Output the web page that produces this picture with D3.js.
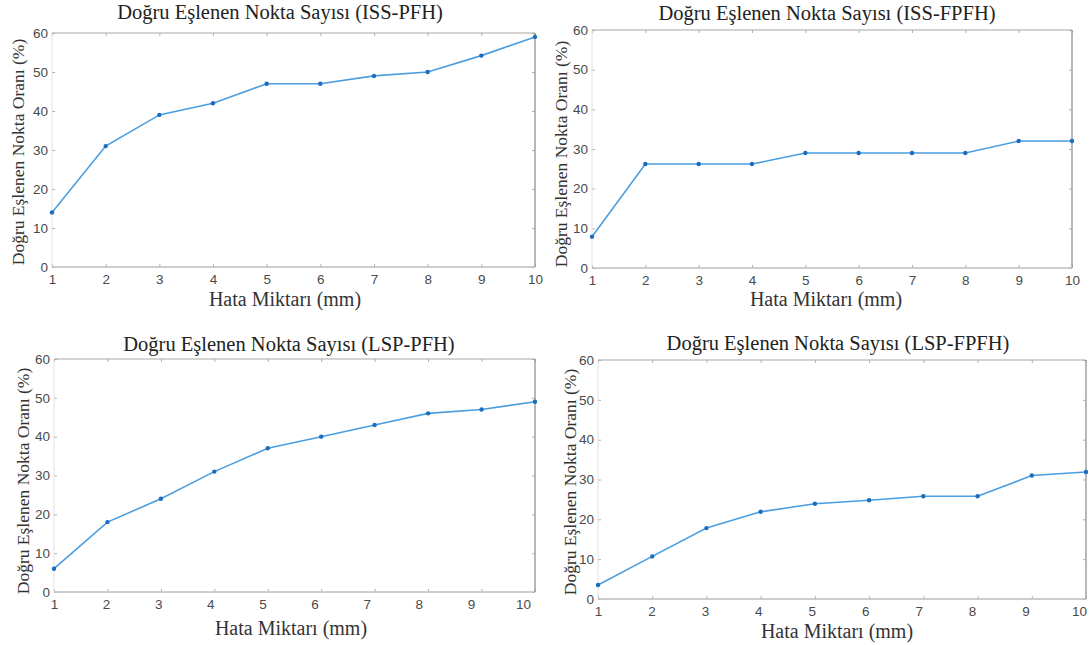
<!DOCTYPE html>
<html lang="tr">
<head>
<meta charset="UTF-8">
<title>Doğru Eşlenen Nokta Sayısı</title>
<script src="https://cdnjs.cloudflare.com/ajax/libs/d3/7.8.5/d3.min.js"></script>
<style>
    body { margin: 0; background: #fff; }
    .tick text { font-family: "Liberation Sans", Arial, sans-serif; font-size: 13.5px; fill: #4a4a4a; }
    .title { font-family: "Liberation Serif", "Times New Roman", serif; font-size: 20.5px; fill: #222; }
    .xtitle { font-family: "Liberation Serif", "Times New Roman", serif; font-size: 20px; fill: #333; }
    .ytitle { font-family: "Liberation Serif", "Times New Roman", serif; font-size: 17.5px; fill: #333; }
</style>
</head>
<body>
<svg id="chart" width="1091" height="645"></svg>
<script>
    // values
    const errorMm = [1, 2, 3, 4, 5, 6, 7, 8, 9, 10];
    const xTickLabels = ["1", "2", "3", "4", "5", "6", "7", "8", "9", "10"];
    const yTicks = [0, 10, 20, 30, 40, 50, 60];

    const issPfh  = [14, 31, 39, 42, 47, 47, 49, 50, 54.2, 59];
    const issFpfh = [7.9, 26.2, 26.2, 26.2, 29, 29, 29, 29, 32, 32];
    const lspPfh  = [6, 18, 24, 31, 37, 40, 43, 46, 47, 49];
    const lspFpfh = [3.5, 10.7, 17.8, 21.9, 23.9, 24.8, 25.8, 25.8, 31, 31.9];

    const titles = [
        "Doğru Eşlenen Nokta Sayısı (ISS-PFH)",
        "Doğru Eşlenen Nokta Sayısı (ISS-FPFH)",
        "Doğru Eşlenen Nokta Sayısı (LSP-PFH)",
        "Doğru Eşlenen Nokta Sayısı (LSP-FPFH)"
    ];
    const xLabel = "Hata Miktarı (mm)";
    const yLabel = "Doğru Eşlenen Nokta Oranı (%)";

    // panel boxes; labelRight is where the "10" label sits (the bottom plots were stretched)
    const layout = [
        { left: 52,  right: 535,  top: 33,  bottom: 267, labelRight: 535,  title: [280, 19],  xt: [285, 306], yt: [24, 152] },
        { left: 592, right: 1072, top: 30,  bottom: 268, labelRight: 1072, title: [827, 20],  xt: [826, 306], yt: [567, 154] },
        { left: 54,  right: 535,  top: 359, bottom: 592, labelRight: 523,  title: [289, 351], xt: [291, 635], yt: [29, 481] },
        { left: 598, right: 1086, top: 360, bottom: 599, labelRight: 1079, title: [838, 350], xt: [837, 638], yt: [576, 482] }
    ];
    const series = [issPfh, issFpfh, lspPfh, lspFpfh];

    const svg = d3.select("#chart");

    layout.forEach((p, i) => {
        const x = d3.scaleLinear().domain([1, 10]).range([p.left, p.right]);
        const xl = d3.scaleLinear().domain([1, 10]).range([p.left, p.labelRight]);
        const y = d3.scaleLinear().domain([0, 60]).range([p.bottom, p.top]);
        const g = svg.append("g");

        // inward tick marks on all four sides
        const marks = [
            [d3.axisBottom(x).tickValues(errorMm), `translate(0,${p.bottom})`],
            [d3.axisTop(x).tickValues(errorMm), `translate(0,${p.top})`],
            [d3.axisLeft(y).tickValues(yTicks), `translate(${p.left},0)`],
            [d3.axisRight(y).tickValues(yTicks), `translate(${p.right},0)`]
        ];
        marks.forEach(([ax, tr]) => {
            const a = g.append("g").attr("transform", tr)
                .call(ax.tickSize(-3).tickFormat(""));
            a.select(".domain").remove();
            a.selectAll("line").attr("stroke", "#b0b0b0");
        });

        // y tick labels
        const ya = g.append("g").attr("transform", `translate(${p.left},0)`)
            .call(d3.axisLeft(y).tickValues(yTicks).tickSize(0).tickPadding(4));
        ya.select(".domain").remove();

        // x tick labels
        const xa = g.append("g").attr("transform", `translate(0,${p.bottom})`)
            .call(d3.axisBottom(xl).tickValues(errorMm).tickSize(0).tickPadding(7)
                .tickFormat((d, k) => xTickLabels[k]));
        xa.select(".domain").remove();

        // box
        g.append("line").attr("x1", p.left).attr("x2", p.left).attr("y1", p.top).attr("y2", p.bottom)
            .attr("stroke", "#e2e2e2").attr("stroke-width", 1);
        g.append("line").attr("x1", p.left).attr("x2", p.right).attr("y1", p.top).attr("y2", p.top)
            .attr("stroke", "#a8a8a8").attr("stroke-width", 1.2);
        g.append("line").attr("x1", p.right).attr("x2", p.right).attr("y1", p.top).attr("y2", p.bottom)
            .attr("stroke", "#9a9a9a").attr("stroke-width", 1.4);
        g.append("line").attr("x1", p.left).attr("x2", p.right).attr("y1", p.bottom).attr("y2", p.bottom)
            .attr("stroke", "#bdbdbd").attr("stroke-width", 1.6);

        // data line
        const pts = errorMm.map((d, k) => [d, series[i][k]]);
        g.append("path")
            .datum(pts)
            .attr("fill", "none")
            .attr("stroke", "#4a9ee0")
            .attr("stroke-width", 1.6)
            .attr("d", d3.line().x(d => x(d[0])).y(d => y(d[1])));

        g.selectAll(".pt").data(pts).join("circle")
            .attr("class", "pt")
            .attr("cx", d => x(d[0]))
            .attr("cy", d => y(d[1]))
            .attr("r", 2.2)
            .attr("fill", "#1a6cbf");

        // titles
        g.append("text").attr("class", "title")
            .attr("x", p.title[0]).attr("y", p.title[1])
            .attr("text-anchor", "middle").text(titles[i]);
        g.append("text").attr("class", "xtitle")
            .attr("x", p.xt[0]).attr("y", p.xt[1])
            .attr("text-anchor", "middle").text(xLabel);
        g.append("text").attr("class", "ytitle")
            .attr("transform", `translate(${p.yt[0]},${p.yt[1]}) rotate(-90)`)
            .attr("text-anchor", "middle").text(yLabel);
    });
</script>
</body>
</html>
